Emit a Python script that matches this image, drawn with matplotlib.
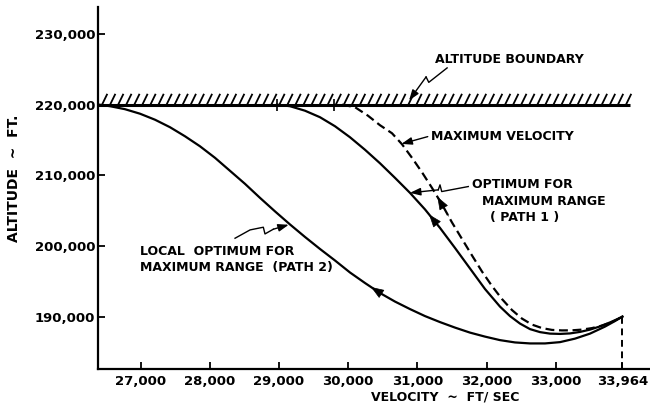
import numpy as np
import matplotlib
matplotlib.use("Agg")
import matplotlib.pyplot as plt
from matplotlib import patheffects

# Trajectories: velocity (ft/sec) vs altitude (ft)
path2_velocity = [26400, 26556, 26773, 26990, 27207, 27424, 27640, 27857, 28074, 28291,
                  28508, 28725, 28942, 29158, 29375, 29592, 29809, 30026, 30243, 30460,
                  30676, 30893, 31110, 31327, 31544, 31761, 31978, 32194, 32411, 32628,
                  32845, 33062, 33279, 33496, 33712, 33856, 33964]
path2_altitude = [220000, 219787, 219362, 218723, 217872, 216809, 215532, 214114, 212482, 210639,
                  208795, 206809, 204894, 203050, 201277, 199575, 197944, 196242, 194752, 193334,
                  192128, 191065, 190072, 189221, 188441, 187731, 187164, 186668, 186341, 186200,
                  186200, 186384, 186880, 187589, 188582, 189363, 190000]

path1_velocity = [28970, 29158, 29375, 29592, 29809, 30026, 30243, 30460, 30676, 30893,
                  31110, 31327, 31544, 31761, 31978, 32194, 32339, 32484, 32628, 32773,
                  32917, 33062, 33206, 33351, 33496, 33640, 33785, 33900, 33964]
path1_altitude = [220000, 219787, 219149, 218227, 216950, 215390, 213617, 211702, 209646, 207518,
                  205178, 202554, 199717, 196809, 193901, 191419, 190072, 189008, 188228, 187802,
                  187589, 187546, 187617, 187830, 188157, 188611, 189178, 189674, 190000]

maxvel_velocity = [29910, 30098, 30286, 30460, 30633, 30778, 30922, 31067, 31211, 31356,
                   31500, 31645, 31790, 31934, 32079, 32223, 32368, 32512, 32657, 32802,
                   32946, 33091, 33235, 33380, 33524, 33669, 33814, 33964]
maxvel_altitude = [220000, 219645, 218440, 217092, 215958, 214397, 212482, 210426, 208227, 205887,
                   203334, 200993, 198653, 196383, 194327, 192483, 190923, 189717, 188866, 188370,
                   188114, 188043, 188057, 188157, 188370, 188724, 189221, 190000]

boundary_altitude = 220000
boundary_end_velocity = 34074
final_velocity = 33964
final_altitude = 190000

x_ticks = [27000, 28000, 29000, 30000, 31000, 32000, 33000, 33964]
x_tick_labels = ["27,000", "28,000", "29,000", "30,000", "31,000", "32,000", "33,000", "33,964"]
y_ticks = [190000, 200000, 210000, 220000, 230000]
y_tick_labels = ["190,000", "200,000", "210,000", "220,000", "230,000"]

XMIN, XMAX = 26383, 34363
YMIN, YMAX = 182580, 233830

plt.rcParams["font.family"] = ["DejaVu Sans"]
plt.rcParams["font.weight"] = "bold"

fig = plt.figure(figsize=(6.5, 4.07), dpi=100)
ax = fig.add_axes([98 / 650, 1 - 369 / 407, 552 / 650, 362 / 407])
ax.set_xlim(XMIN, XMAX)
ax.set_ylim(YMIN, YMAX)

for side in ("top", "right"):
    ax.spines[side].set_visible(False)
for side in ("left", "bottom"):
    ax.spines[side].set_linewidth(1.6)

ax.set_xticks(x_ticks)
ax.set_xticklabels(x_tick_labels)
ax.set_yticks(y_ticks)
ax.set_yticklabels(y_tick_labels)
ax.tick_params(direction="in", length=5, width=1.3, labelsize=9.5, pad=3)
ax.tick_params(axis="x", pad=4.5)
ax.tick_params(axis="y", pad=2)

ax.set_xlabel("VELOCITY  ~  FT/ SEC", fontsize=9, fontweight="bold")
ax.xaxis.set_label_coords((445 - 98) / 552, (369 - 397) / 362)
ax.xaxis.label.set_va("center")
ax.set_ylabel("ALTITUDE  ~  FT.", fontsize=10, fontweight="bold")
ax.yaxis.set_label_coords((14 - 98) / 552, (369 - 178) / 362)
ax.yaxis.label.set_va("center")

# Altitude boundary with hatching on the upper side
ax.plot([XMIN, boundary_end_velocity], [boundary_altitude, boundary_altitude],
        color="black", lw=2.2, solid_capstyle="butt",
        path_effects=[patheffects.withTickedStroke(spacing=5.8, angle=64, length=1.5,
                                                   linewidth=1.3)])

# Trajectories
ax.plot(path2_velocity, path2_altitude, color="black", lw=1.6)
ax.plot(path1_velocity, path1_altitude, color="black", lw=1.6)
ax.plot(maxvel_velocity, maxvel_altitude, color="black", lw=1.6, dashes=(4, 2.1))
ax.plot([final_velocity, final_velocity], [final_altitude, YMIN], color="black",
        lw=1.4, dashes=(3.5, 2.4))

# Start markers on the boundary
ax.plot([path1_velocity[0], maxvel_velocity[0] - 120], [boundary_altitude] * 2,
        ls="none", marker="|", ms=8, mew=1.2, color="black")

ARROW = dict(arrowstyle="-|>,head_length=0.75,head_width=0.28", color="black",
             lw=0.5, mutation_scale=11, shrinkA=0, shrinkB=0)


def flow_arrow(vel, alt, at, back=160):
    tip = (at, np.interp(at, vel, alt))
    tail = (at + back, np.interp(at + back, vel, alt))
    ax.annotate("", xy=tip, xytext=tail, arrowprops=ARROW)


flow_arrow(path2_velocity, path2_altitude, 30330)
flow_arrow(path1_velocity, path1_altitude, 31170)
flow_arrow(maxvel_velocity, maxvel_altitude, 31290)


def leader(points):
    pts = np.asarray(points, dtype=float)
    ax.plot(pts[:-1, 0], pts[:-1, 1], color="black", lw=1.0)
    ax.annotate("", xy=pts[-1], xytext=pts[-2],
                arrowprops=dict(arrowstyle="-|>,head_length=0.7,head_width=0.25",
                                color="black", lw=1.0, mutation_scale=9,
                                shrinkA=0, shrinkB=0))


TEXT = dict(fontsize=9, fontweight="bold", ha="left", va="center")

ax.text(31255, 226383, "ALTITUDE BOUNDARY", **TEXT)
leader([(31430, 225206), (31165, 223163), (31126, 223929), (30880, 220600)])

ax.text(31200, 215532, "MAXIMUM VELOCITY", **TEXT)
leader([(31150, 215480), (30770, 214450)])

ax.text(31785, 208652, "OPTIMUM FOR", **TEXT)
ax.text(31930, 206284, "MAXIMUM RANGE", **TEXT)
ax.text(32050, 203972, "( PATH 1 )", **TEXT)
leader([(31736, 208411), (31352, 207702), (31327, 208652), (31302, 207943), (30893, 207518)])

ax.text(26990, 199191, "LOCAL  OPTIMUM FOR", **TEXT)
ax.text(26990, 196950, "MAXIMUM RANGE  (PATH 2)", **TEXT)
leader([(28364, 201092), (28581, 202270), (28773, 202652), (28797, 201702),
        (28917, 202369), (29140, 203000)])

fig.savefig("out.png", dpi=100)
